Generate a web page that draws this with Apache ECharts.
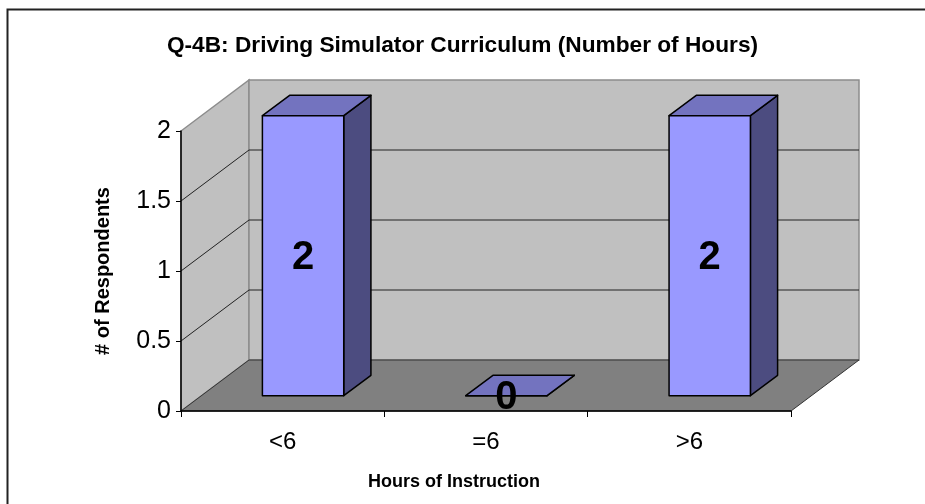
<!DOCTYPE html>
<html>
<head>
<meta charset="utf-8">
<script src="https://cdn.jsdelivr.net/npm/echarts@6/dist/echarts.min.js"></script>
<style>
  html, body { margin: 0; padding: 0; background: #fff; }
  #chart { width: 925px; height: 504px; }
</style>
</head>
<body>
<div id="chart"></div>
<script>
// data
const categories = ['<6', '=6', '>6']
const respondents = [2, 0, 2]
const yTicks = [0, 0.5, 1, 1.5, 2]

const FONT = "'Liberation Sans', Arial, sans-serif"

// fake 3D: how far the back wall sits from the front plane (px)
const DEPTH_X = 68
const DEPTH_Y = -51
// bars start this far into the box and are this deep (fraction of depth)
const BAR_FRONT = 0.3
const BAR_DEPTH = 0.4
const BAR_WIDTH = 0.4

const COLORS = {
  wall: '#c0c0c0',
  floor: '#808080',
  edge: '#8c8c8c',
  grid: '#222',
  front: '#9999ff',
  top: '#7373bf',
  side: '#4c4c80',
}

function renderWalls(params, api) {
  const cs = params.coordSys
  const L = cs.x, R = cs.x + cs.width, T = cs.y, B = cs.y + cs.height
  const children = [
    {
      type: 'polygon',
      shape: { points: [[L, B], [L + DEPTH_X, B + DEPTH_Y], [L + DEPTH_X, T + DEPTH_Y], [L, T]] },
      style: { fill: COLORS.wall, stroke: COLORS.edge, lineWidth: 1.5 },
    },
    {
      type: 'rect',
      shape: { x: L + DEPTH_X, y: T + DEPTH_Y, width: R - L, height: B - T },
      style: { fill: COLORS.wall, stroke: COLORS.edge, lineWidth: 1.5 },
    },
    {
      type: 'polygon',
      shape: { points: [[L, B], [R, B], [R + DEPTH_X, B + DEPTH_Y], [L + DEPTH_X, B + DEPTH_Y]] },
      style: { fill: COLORS.floor, stroke: '#333', lineWidth: 1 },
    },
  ]
  yTicks.forEach((t) => {
    if (t === yTicks[0] || t === yTicks[yTicks.length - 1]) return
    const yt = api.coord([0, t])[1]
    children.push({
      type: 'polyline',
      shape: { points: [[L, yt], [L + DEPTH_X, yt + DEPTH_Y], [R + DEPTH_X, yt + DEPTH_Y]] },
      style: { fill: null, stroke: COLORS.grid, lineWidth: 1 },
    })
  })
  return { type: 'group', children }
}

function renderBar(params, api) {
  const cat = api.value(0)
  const val = api.value(1)
  const base = api.coord([cat, 0])
  const top = api.coord([cat, val])
  const w = api.size([1, 0])[0] * BAR_WIDTH
  const x0 = base[0] - w / 2 + DEPTH_X * BAR_FRONT
  const yb = base[1] + DEPTH_Y * BAR_FRONT
  const yt = top[1] + DEPTH_Y * BAR_FRONT
  const dx = DEPTH_X * BAR_DEPTH
  const dy = DEPTH_Y * BAR_DEPTH
  const line = { stroke: '#000', lineWidth: 1.5, lineJoin: 'round' }
  return {
    type: 'group',
    children: [
      {
        type: 'polygon',
        shape: { points: [[x0 + w, yt], [x0 + w, yb], [x0 + w + dx, yb + dy], [x0 + w + dx, yt + dy]] },
        style: Object.assign({ fill: COLORS.side }, line),
      },
      {
        type: 'polygon',
        shape: { points: [[x0, yt], [x0 + w, yt], [x0 + w + dx, yt + dy], [x0 + dx, yt + dy]] },
        style: Object.assign({ fill: COLORS.top }, line),
      },
      {
        type: 'rect',
        shape: { x: x0, y: yt, width: w, height: yb - yt },
        style: Object.assign({ fill: COLORS.front }, line),
      },
      {
        type: 'text',
        style: {
          text: String(val),
          x: x0 + w / 2,
          y: (yt + yb) / 2 + 2,
          align: 'center',
          verticalAlign: 'middle',
          font: `bold 40px ${FONT}`,
          fill: '#000',
        },
      },
    ],
  }
}

const chart = echarts.init(document.getElementById('chart'), null, { renderer: 'canvas' })

chart.setOption({
  animation: false,
  backgroundColor: '#fff',
  textStyle: { fontFamily: FONT },
  title: {
    text: 'Q-4B: Driving Simulator Curriculum (Number of Hours)',
    left: 'center',
    top: 29,
    textStyle: { fontSize: 22.7, fontWeight: 'bold', color: '#000', fontFamily: FONT },
  },
  graphic: [
    {
      type: 'rect',
      silent: true,
      z: -10,
      shape: { x: 7.5, y: 9.5, width: 1000, height: 1000 },
      style: { fill: 'none', stroke: '#222', lineWidth: 2 },
    },
  ],
  grid: { left: 181, right: 134, top: 131, bottom: 93 },
  xAxis: {
    type: 'category',
    data: categories,
    name: 'Hours of Instruction',
    nameLocation: 'middle',
    nameGap: 62,
    nameTextStyle: { fontSize: 18, fontWeight: 'bold', color: '#000', padding: [0, 64, 0, 0] },
    axisLine: { lineStyle: { color: '#000', width: 1.5 } },
    axisTick: { show: true, length: 6, lineStyle: { color: '#000' } },
    axisLabel: { fontSize: 24, color: '#000', margin: 19 },
    splitLine: { show: false },
  },
  yAxis: {
    type: 'value',
    min: yTicks[0],
    max: yTicks[yTicks.length - 1],
    interval: 0.5,
    name: '# of Respondents',
    nameLocation: 'middle',
    nameGap: 68,
    nameTextStyle: { fontSize: 20, fontWeight: 'bold', color: '#000' },
    axisLine: { show: true, lineStyle: { color: '#000', width: 1.5 } },
    axisTick: { show: true, length: 5, lineStyle: { color: '#000' } },
    axisLabel: { fontSize: 25, color: '#000', margin: 10 },
    splitLine: { show: false },
  },
  series: [
    {
      type: 'custom',
      name: 'walls',
      z: -1,
      silent: true,
      renderItem: renderWalls,
      data: [[0, 0]],
    },
    {
      type: 'custom',
      name: 'Respondents',
      z: 3,
      renderItem: renderBar,
      encode: { x: 0, y: 1 },
      data: categories.map((c, i) => [i, respondents[i]]),
    },
  ],
})
</script>
</body>
</html>
